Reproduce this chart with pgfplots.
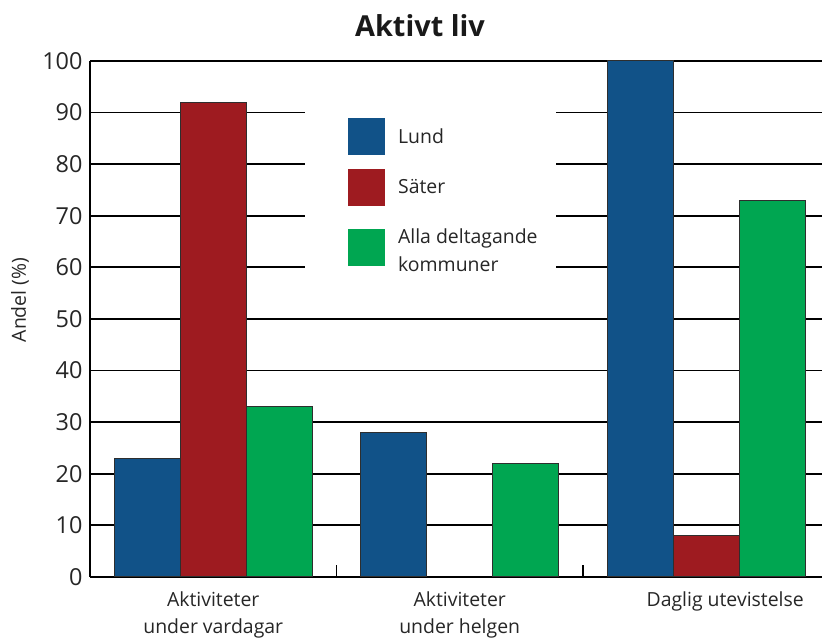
\documentclass[border=0pt]{standalone}
\usepackage{fontspec}
\setmainfont{Open Sans}
\newfontfamily\labelfont{Open Sans}
\usepackage{pgfplots}
\pgfplotsset{compat=1.18}
\definecolor{cLund}{HTML}{115288}
\definecolor{cSater}{HTML}{9E1B20}
\definecolor{cAlla}{HTML}{00A651}
\definecolor{edge}{HTML}{2E2E2E}
\begin{document}
\begin{tikzpicture}[x=1bp,y=1bp]
\useasboundingbox (-90,-66) rectangle (734,577);
\begin{axis}[
  at={(0,0)}, anchor=south west,
  scale only axis, width=732bp, height=516bp,
  xmin=-0.5, xmax=2.47, ymin=0, ymax=100,
  axis x line*=bottom, axis y line*=left,
  axis line style={black, line width=2bp},
  ytick={0,10,...,100},
  ymajorgrids, grid style={black, line width=1.8bp},
  xtick={0,1,2},
  xticklabels={{Aktiviteter\\under vardagar},{Aktiviteter\\under helgen},{\hspace*{38bp}Daglig utevistelse}},
  xticklabel style={align=center, font=\fontsize{19.5}{27}\selectfont, text=black!85, yshift=-11bp},
  yticklabel style={font=\fontsize{23.5}{27}\selectfont, text=black!85, xshift=-4bp},
  /pgf/number format/assume math mode=true,
  major tick length=0pt,
  extra x ticks={0.5,1.5}, extra x tick labels={},
  extra x tick style={major tick length=12bp, tick align=inside, tick style={black, line width=1.8bp}},
  ybar, bar width=0.268,
  legend style={draw=none, fill=white, anchor=north west,
    at={(axis cs:0.372,95)}, inner xsep=16bp, inner ysep=31bp,
    font=\fontsize{19.5}{28}\selectfont, text=black!85,
    row sep=14bp, cells={align=left}},
  legend cell align=left,
  legend image code/.code={\path[draw=none,fill=none] (-27bp,0bp) rectangle (48bp,0bp); \fill[#1, draw=none] (0bp,-18.5bp) rectangle (37bp,18.5bp);},
]
\addplot[fill=cLund, draw=edge, line width=1bp, bar shift=-0.268] coordinates {(0,23) (1,28) (2,100)};
\addplot[fill=cSater, draw=edge, line width=1bp, bar shift=0] coordinates {(0,92) (2,8)};
\addplot[fill=cAlla, draw=edge, line width=1bp, bar shift=0.268] coordinates {(0,33) (1,22) (2,73)};
\legend{Lund, Säter, {\rule{0pt}{22bp}Alla deltagande\\kommuner}}
\end{axis}
\node[anchor=base, font=\fontsize{29}{34}\selectfont\bfseries, text=black!90] at (330,540) {Aktivt liv};
\node[rotate=90, font=\labelfont\fontsize{19.5}{24}\selectfont, text=black!85] at (-70,277) {Andel (\%)};
\end{tikzpicture}
\end{document}
